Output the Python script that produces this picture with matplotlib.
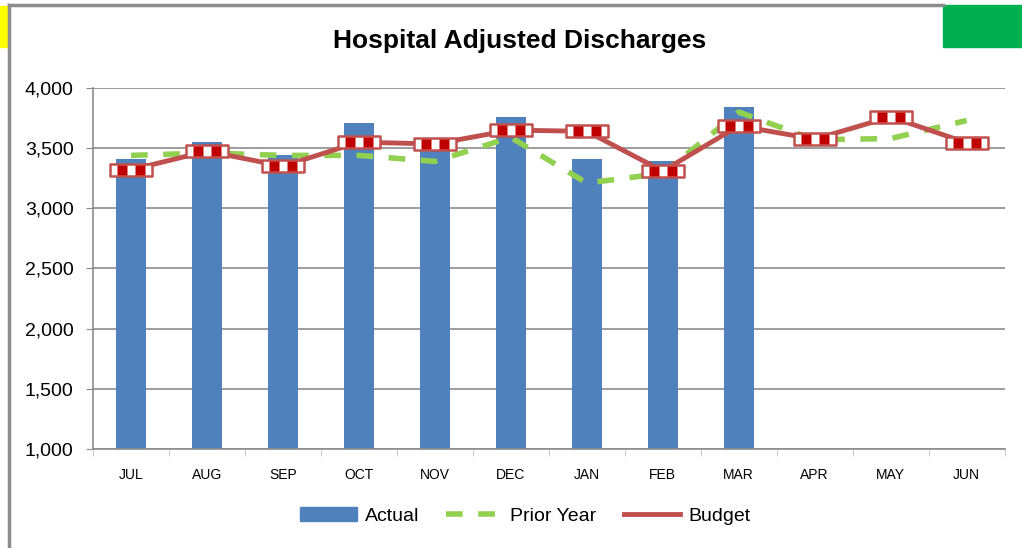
import numpy as np
import matplotlib.pyplot as plt
from matplotlib.path import Path
from matplotlib.patches import Rectangle
from matplotlib.lines import Line2D

months = ["JUL", "AUG", "SEP", "OCT", "NOV", "DEC", "JAN", "FEB", "MAR", "APR", "MAY", "JUN"]
actual = [3410, 3550, 3440, 3710, 3480, 3760, 3410, 3390, 3840]
prior_year = [3440, 3460, 3440, 3440, 3390, 3590, 3210, 3290, 3800, 3570, 3580, 3730]
budget = [3320, 3475, 3350, 3550, 3535, 3650, 3640, 3310, 3685, 3575, 3760, 3545]

fig = plt.figure(figsize=(10.22, 5.48), dpi=100)
ax = fig.add_axes([0.091, 0.1807, 0.892, 0.6587])
font = "Liberation Sans"
dash = (3, 2.8)

x = np.arange(len(months))
ax.bar(x[:len(actual)], actual, width=0.4, color="#4F81BD", zorder=2)
ax.plot(x, prior_year, color="#92D050", lw=4, dashes=dash, zorder=3)
ax.plot(x, budget, color="#C0504D", lw=3.5, zorder=4)

# budget markers: outlined box with checker cells
box = Path([(-2, -0.58), (2, -0.58), (2, 0.58), (-2, 0.58), (-2, -0.58)],
           [Path.MOVETO, Path.LINETO, Path.LINETO, Path.LINETO, Path.CLOSEPOLY])
cells = []
codes = []
for cx in (-0.85, 0.85):
    cells += [(cx - 0.48, -0.45), (cx + 0.48, -0.45), (cx + 0.48, 0.45), (cx - 0.48, 0.45), (cx - 0.48, -0.45)]
    codes += [Path.MOVETO, Path.LINETO, Path.LINETO, Path.LINETO, Path.CLOSEPOLY]
cells += [(-2, -0.58), (2, -0.58)]
codes += [Path.MOVETO, Path.MOVETO]
checker = Path(cells, codes)
ax.plot(x, budget, ls="none", marker=box, ms=30, mfc="white", mec="#C0504D", mew=1.8, zorder=5)
ax.plot(x, budget, ls="none", marker=checker, ms=30, mfc="#C00000", mec="none", zorder=6)

ax.set_xlim(-0.5, len(months) - 0.5)
ax.set_ylim(1000, 4000)
ax.set_yticks(np.arange(1000, 4001, 500))
ax.set_yticklabels([f"{v:,}" for v in range(1000, 4001, 500)], fontsize=14, family=font)
ax.set_xticks(x)
ax.set_xticklabels(months, fontsize=10, family=font)
ax.set_xticks(np.arange(-0.5, len(months)), minor=True)
ax.tick_params(axis="x", which="major", length=0, pad=14)
ax.tick_params(axis="x", which="minor", length=5, color="#BFBFBF")
ax.tick_params(axis="y", length=5, color="#8C8C8C", pad=9)
ax.yaxis.grid(True, color="#8C8C8C", lw=1.2, zorder=0)
for s in ["top", "right"]:
    ax.spines[s].set_visible(False)
for s in ["left", "bottom"]:
    ax.spines[s].set_color("#8C8C8C")
    ax.spines[s].set_linewidth(1.2)

fig.text(0.508, 0.925, "Hospital Adjusted Discharges", ha="center", va="center",
         fontsize=19, fontweight="bold", family=font)

handles = [Rectangle((0, 0), 1, 1, color="#4F81BD"),
           Line2D([], [], color="#92D050", lw=4, dashes=dash),
           Line2D([], [], color="#C0504D", lw=3.5)]
fig.legend(handles, ["Actual", "Prior Year", "Budget"], loc="center", bbox_to_anchor=(0.514, 0.058),
           ncol=3, frameon=False, prop={"family": font, "size": 14}, handlelength=2.9,
           columnspacing=1.4, handletextpad=0.4)

# sheet decorations
fig.add_artist(Line2D([0.0088, 0.0088], [0, 0.991], color="#8C8C8C", lw=2.5))
fig.add_artist(Line2D([0.0088, 0.923], [0.991, 0.991], color="#8C8C8C", lw=2.5))
fig.add_artist(Rectangle((0, 0.914), 0.0078, 0.075, color="#FFFF00"))
fig.add_artist(Rectangle((0.923, 0.914), 0.077, 0.077, color="#00B050"))

fig.savefig("out.png", dpi=100)
